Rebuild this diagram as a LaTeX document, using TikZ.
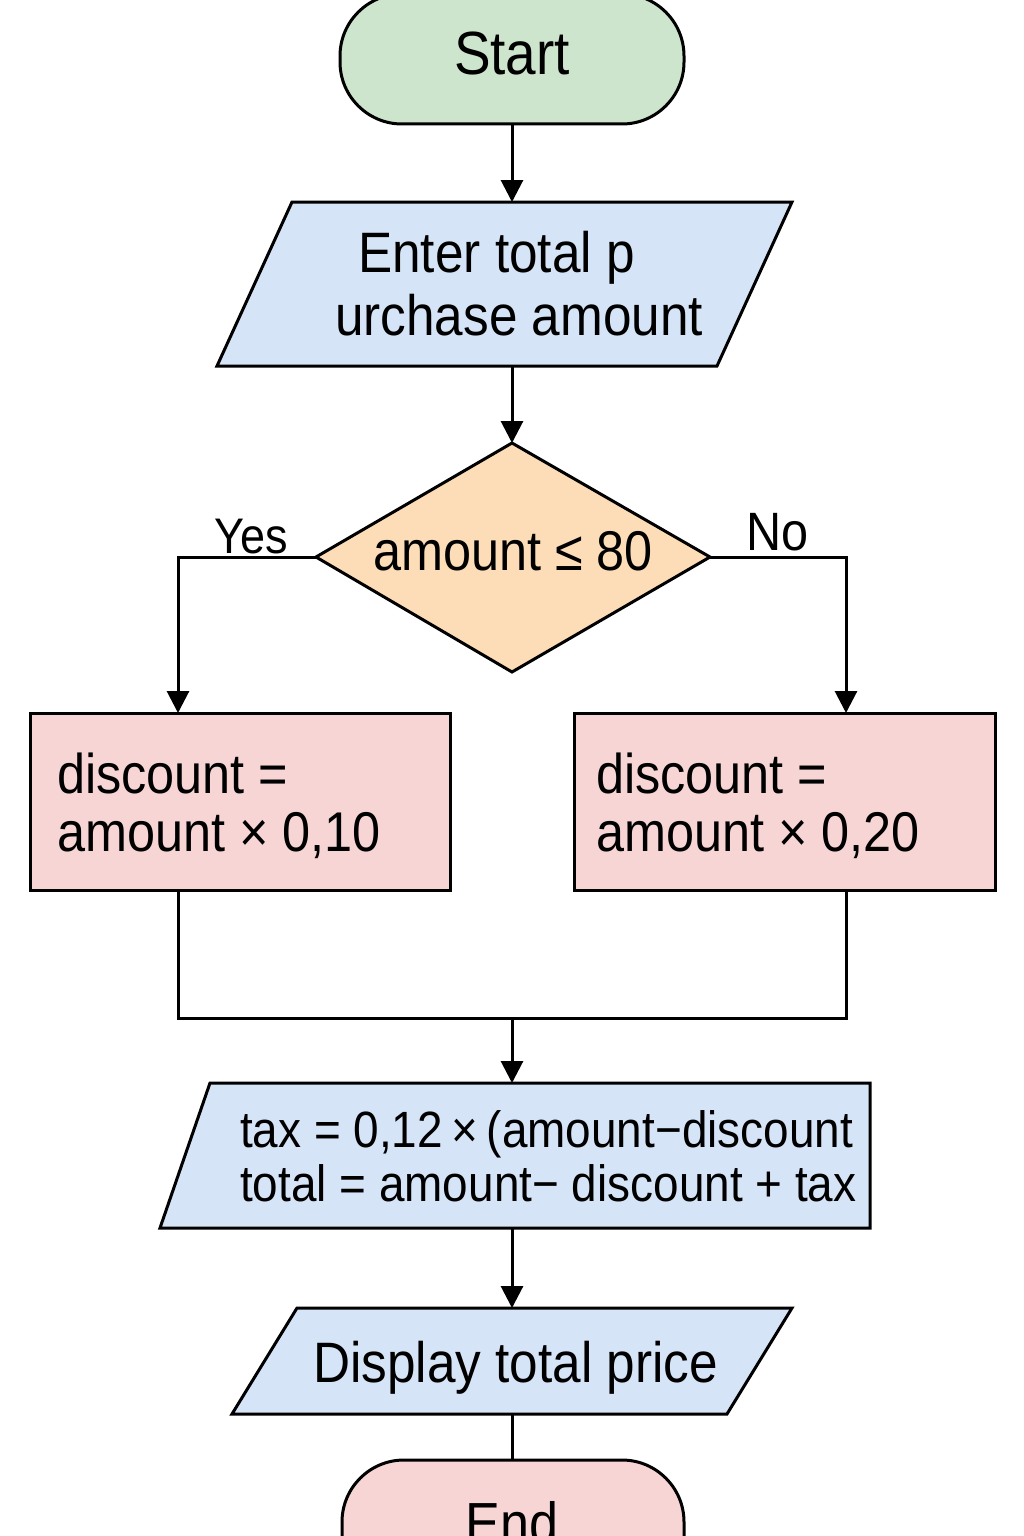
\documentclass[tikz,border=0pt]{standalone}
\usepackage{fontspec}
\setmainfont{Liberation Sans}
\newfontfamily\nar[FakeStretch=0.9]{Liberation Sans}
\usetikzlibrary{arrows.meta}
\definecolor{cgreen}{HTML}{CDE5CC}
\definecolor{cblue}{HTML}{D6E4F7}
\definecolor{corange}{HTML}{FCDDB8}
\definecolor{cpink}{HTML}{F7D5D5}
\tikzset{
  shp/.style={draw=black, line width=3pt, line join=miter},
  conn/.style={draw=black, line width=3pt},
  arr/.style={conn, -{Triangle[length=22pt,width=22pt]}},
  txt/.style={inner sep=0pt, anchor=base west, font=\nar\fontsize{#1}{#1}\selectfont},
  ctxt/.style={inner sep=0pt, anchor=base, font=\nar\fontsize{#1}{#1}\selectfont},
}
\begin{document}
\begin{tikzpicture}[x=1pt,y=-1pt]
\useasboundingbox (0,0) rectangle (1024,1536);
\fill[white] (0,0) rectangle (1024,1536);

% Start
\draw[shp, fill=cgreen, rounded corners=62pt] (340,-6) rectangle (684,124);
\coordinate (startB) at (512,124);
\node[ctxt=61] (startT) at (512,75) {Start};

% Input parallelogram
\draw[shp, fill=cblue] (292,202) -- (792,202) -- (717,366) -- (217,366) -- cycle;
\coordinate (inT) at (512,202);
\coordinate (inB) at (512,366);
\node[txt=57] (in1) at (358,272) {Enter total p};
\node[txt=57] (in2) at (335,335) {urchase amount};

% Decision
\draw[shp, fill=corange] (512,443) -- (710,557) -- (512,672) -- (316,557) -- cycle;
\coordinate (decT) at (512,443);
\coordinate (decL) at (316,557);
\coordinate (decR) at (710,557);
\node[txt=56] (decTx) at (373,570) {amount ≤ 80};
\node[txt=50] (yes) at (214,553) {Yes};
\node[txt=54] (no) at (746,550) {No};

% Boxes
\draw[shp, fill=cpink] (30,713) rectangle (450,890);
\draw[shp, fill=cpink] (574,713) rectangle (995,890);
\coordinate (lbT) at (178,713);
\coordinate (lbB) at (178,890);
\coordinate (rbT) at (846,713);
\coordinate (rbB) at (846,890);
\node[txt=56] (lb1) at (57,793) {discount =};
\node[txt=56] (lb2) at (57,851) {amount × 0,10};
\node[txt=56] (rb1) at (596,793) {discount =};
\node[txt=56] (rb2) at (596,851) {amount × 0,20};

% Merge
\coordinate (mL) at (178,1018);
\coordinate (mR) at (846,1018);
\coordinate (mC) at (512,1018);

% Tax shape
\draw[shp, fill=cblue] (210,1083) -- (870,1083) -- (870,1228) -- (160,1228) -- cycle;
\coordinate (taxT) at (512,1083);
\coordinate (taxB) at (512,1228);
\node[txt=51] (tx1) at (240,1147) {tax = 0,12\,×\,(amount−discount};
\node[txt=51] (tx2) at (240,1201) {total = amount− discount + tax};

% Display
\draw[shp, fill=cblue] (297,1308) -- (792,1308) -- (727,1414) -- (232,1414) -- cycle;
\coordinate (dT) at (512,1308);
\coordinate (dB) at (512,1414);
\node[txt=57] (dTx) at (313,1382) {Display total price};

% End
\draw[shp, fill=cpink, rounded corners=62pt] (342,1460) rectangle (684,1600);
\coordinate (endT) at (512,1460);
\node[ctxt=58] (endTx) at (512,1543) {End};

% Connectors
\draw[arr] (startB) -- (inT);
\draw[arr] (inB) -- (decT);
\draw[arr] (decL) -| (lbT);
\draw[arr] (decR) -| (rbT);
\draw[conn] (lbB) -- (mL) -- (mR) -- (rbB);
\draw[arr] (mC) -- (taxT);
\draw[arr] (taxB) -- (dT);
\draw[conn] (dB) -- (endT);
\end{tikzpicture}
\end{document}
